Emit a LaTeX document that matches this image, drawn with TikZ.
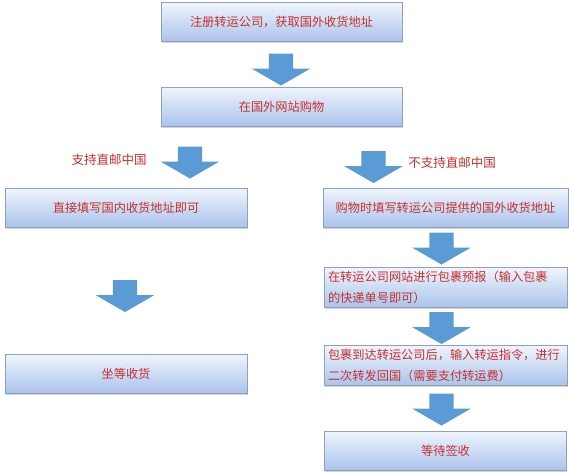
\documentclass[tikz,border=0pt]{standalone}
\usepackage{fontspec}
\setmainfont{Noto Sans CJK SC}
\usetikzlibrary{shapes.arrows,shadows}
\definecolor{boxtop}{HTML}{F0F5FC}
\definecolor{boxbot}{HTML}{AAC3EC}
\definecolor{boxline}{HTML}{8FA2BA}
\definecolor{arrowblue}{HTML}{5B9BD5}
\definecolor{textred}{HTML}{C8302F}
\tikzset{
	stepbox/.style={draw=boxline, line width=1pt, top color=boxtop, bottom color=boxbot,
		minimum width=242pt, minimum height=39pt, inner sep=4pt, text=textred,
		font=\fontsize{12.2}{21}\selectfont,
		drop shadow={shadow xshift=0.8pt, shadow yshift=-1.5pt, opacity=0.35}},
	downarrow/.style={single arrow, fill=arrowblue, draw=none, rotate=-90,
		minimum height=32pt, single arrow head extend=17pt,
		single arrow tip angle=120, inner xsep=0pt, inner ysep=12pt},
	branchlabel/.style={text=textred, font=\fontsize{12.5}{15}\selectfont}
}
\begin{document}
\begin{tikzpicture}[x=1pt,y=-1pt]
		\fill[white] (0,0) rectangle (569,474);
		\useasboundingbox (0,0) rectangle (569,474);

		% Common steps
		\node[stepbox, minimum width=241pt] (register) at (281.5,22) {注册转运公司，获取国外收货地址};
		\node[downarrow] (arrowtop) at (281,66) {};
		\node[stepbox, minimum width=241pt] (shop) at (281.5,106.5) {在国外网站购物};

		% Direct mail
		\node[downarrow] (arrowdirect) at (190,159) {};
		\node[branchlabel] (direct) at (109,160) {支持直邮中国};
		\node[stepbox] (fillhome) at (126,207.5) {直接填写国内收货地址即可};
		\node[downarrow] (arrowwait) at (125,292.5) {};
		\node[stepbox] (wait) at (126,373.5) {坐等收货};

		% Forwarding
		\node[downarrow] (arrowforward) at (373.5,163.5) {};
		\node[branchlabel] (forward) at (452,163) {不支持直邮中国};
		\node[stepbox, minimum width=245pt] (fillabroad) at (445.5,207.5) {购物时填写转运公司提供的国外收货地址};
		\node[downarrow] (arrowreport) at (441.5,245) {};
		\node[stepbox, text width=235pt, align=left] (report) at (445.5,287.5) {在转运公司网站进行包裹预报（输入包裹\\的快递单号即可）};
		\node[downarrow] (arrowsend) at (441.5,324.5) {};
		\node[stepbox, text width=235pt, align=left] (send) at (445.5,365.5) {包裹到达转运公司后，输入转运指令，进行\\二次转发回国（需要支付转运费）};
		\node[downarrow] (arrowsign) at (441.5,406) {};
		\node[stepbox] (sign) at (445.5,450.5) {等待签收};
	\end{tikzpicture}
\end{document}
